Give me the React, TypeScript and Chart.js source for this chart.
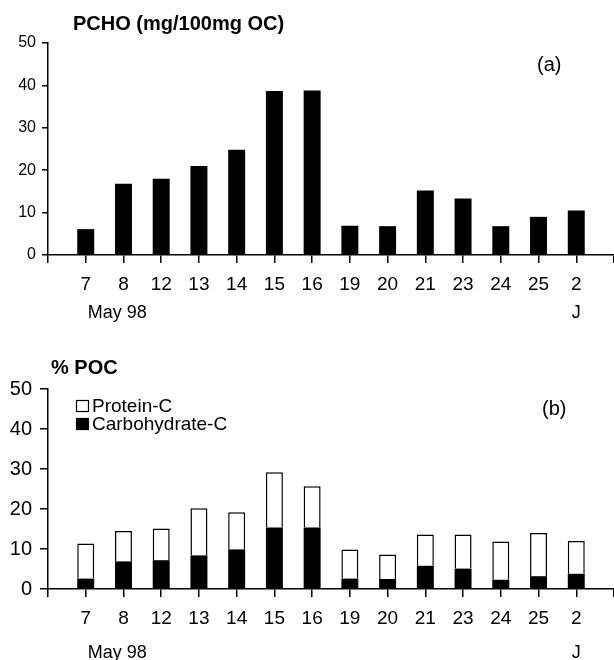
import { useEffect, useRef } from "react";
import { Chart, registerables } from "chart.js";

Chart.register(...registerables);

// ---- data ----
const days = ["7", "8", "12", "13", "14", "15", "16", "19", "20", "21", "23", "24", "25", "2"];
const pchoValues = [6.1, 16.8, 18.0, 21.0, 24.8, 38.7, 38.8, 6.9, 6.8, 15.2, 13.3, 6.8, 9.0, 10.5];
const carbohydrateC = [2.6, 6.9, 7.2, 8.4, 9.9, 15.4, 15.4, 2.6, 2.5, 5.8, 5.1, 2.3, 3.2, 3.8];
const proteinC = [8.8, 7.6, 7.9, 11.8, 9.3, 13.8, 10.3, 7.3, 6.1, 7.8, 8.5, 9.6, 10.8, 8.2];
const yMin = 0;
const yMax = 50;
const yStep = 10;
const monthLabel = "May 98";
const nextMonthLabel = "J";
const titleA = "PCHO (mg/100mg OC)";
const titleB = "% POC";
const tagA = "(a)";
const tagB = "(b)";

const FAMILY = "'Liberation Sans', Arial, Helvetica, sans-serif";

// blank slot at each end of the category axis
const paddedLabels = ["", ...days, ""];
const pad = (arr: number[]) => [null, ...arr, null];

const annotPlugin = {
  id: "annot",
  afterDraw(chart: any, _args: any, opts: any) {
    const ctx = chart.ctx;
    const xs = chart.scales.x;
    const area = chart.chartArea;
    ctx.save();
    ctx.fillStyle = "#000";
    ctx.textBaseline = "middle";
    ctx.textAlign = "left";
    ctx.font = `bold 20px ${FAMILY}`;
    ctx.fillText(opts.title, opts.titleX, opts.titleY);
    ctx.font = `20px ${FAMILY}`;
    ctx.fillText(opts.tag, opts.tagX, opts.tagY);
    ctx.font = `18px ${FAMILY}`;
    ctx.fillText(monthLabel, xs.getPixelForTick(1) + 2, area.bottom + opts.monthDy);
    ctx.textAlign = "center";
    ctx.fillText(nextMonthLabel, xs.getPixelForTick(days.length), area.bottom + opts.monthDy);
    if (opts.legend) {
      const ds = chart.data.datasets.slice().reverse();
      ctx.textAlign = "left";
      ctx.font = `19px ${FAMILY}`;
      ds.forEach((d: any, i: number) => {
        const cy = opts.legendY + i * opts.legendRow;
        const bx = opts.legendX;
        ctx.fillStyle = d.backgroundColor;
        ctx.fillRect(bx, cy - 6, 13, 12);
        ctx.strokeStyle = "#000";
        ctx.lineWidth = 1.2;
        ctx.strokeRect(bx + 0.5, cy - 5.5, 12, 11);
        ctx.fillStyle = "#000";
        ctx.fillText(d.label, bx + 16, cy + 1);
      });
    }
    ctx.restore();
  },
};

function makeScales(o: any) {
  return {
    x: {
      type: "category",
      offset: false,
      stacked: o.stacked,
      grid: {
        display: true,
        offset: false,
        drawOnChartArea: false,
        drawTicks: true,
        tickLength: 8,
        color: "#000",
        lineWidth: 1.5,
      },
      border: { display: true, color: "#000", width: 1.5 },
      ticks: {
        autoSkip: false,
        maxRotation: 0,
        minRotation: 0,
        padding: o.xPad,
        color: "#000",
        font: { family: FAMILY, size: 19 },
      },
      afterFit: (s: any) => {
        s.height = o.xHeight;
        s.paddingLeft = 0;
        s.paddingRight = 0;
      },
    },
    y: {
      min: yMin,
      max: yMax,
      stacked: o.stacked,
      ticks: {
        stepSize: yStep,
        padding: o.yPad,
        color: "#000",
        font: { family: FAMILY, size: o.yFont },
      },
      grid: {
        display: true,
        drawOnChartArea: false,
        drawTicks: true,
        tickLength: o.yTick,
        color: "#000",
        lineWidth: 1.5,
      },
      border: { display: true, color: "#000", width: 1.5 },
      afterFit: (s: any) => {
        s.width = 48;
      },
    },
  };
}

function configA(): any {
  return {
    type: "bar",
    data: {
      labels: paddedLabels,
      datasets: [
        {
          label: "PCHO",
          data: pad(pchoValues),
          backgroundColor: "#000",
          borderWidth: 0,
          barPercentage: 0.45,
          categoryPercentage: 1,
        },
      ],
    },
    options: {
      responsive: false,
      animation: false,
      devicePixelRatio: 1,
      layout: { padding: { top: 43, left: 0, right: 0, bottom: 0 } },
      plugins: {
        legend: { display: false },
        tooltip: { enabled: false },
        annot: {
          title: titleA,
          titleX: 73,
          titleY: 24,
          tag: tagA,
          tagX: 537,
          tagY: 65,
          monthDy: 58,
          legend: false,
        },
      },
      scales: makeScales({ stacked: false, xPad: 10, xHeight: 75, yPad: 6, yFont: 16, yTick: 6 }),
    },
    plugins: [annotPlugin],
  };
}

function configB(): any {
  return {
    type: "bar",
    data: {
      labels: paddedLabels,
      datasets: [
        {
          label: "Carbohydrate-C",
          data: pad(carbohydrateC),
          backgroundColor: "#000",
          borderColor: "#000",
          borderWidth: 0,
          barPercentage: 0.45,
          categoryPercentage: 1,
        },
        {
          label: "Protein-C",
          data: pad(proteinC),
          backgroundColor: "#fff",
          borderColor: "#000",
          borderWidth: 1.5,
          barPercentage: 0.45,
          categoryPercentage: 1,
        },
      ],
    },
    options: {
      responsive: false,
      animation: false,
      devicePixelRatio: 1,
      layout: { padding: { top: 59, left: 0, right: 0, bottom: 0 } },
      plugins: {
        legend: { display: false },
        tooltip: { enabled: false },
        annot: {
          title: titleB,
          titleX: 51,
          titleY: 38,
          tag: tagB,
          tagX: 542,
          tagY: 79,
          monthDy: 64,
          legend: true,
          legendX: 76,
          legendY: 76,
          legendRow: 18,
        },
      },
      scales: makeScales({ stacked: true, xPad: 10, xHeight: 71, yPad: 8, yFont: 20, yTick: 8 }),
    },
    plugins: [annotPlugin],
  };
}

export default function App() {
  const refA = useRef<HTMLCanvasElement | null>(null);
  const refB = useRef<HTMLCanvasElement | null>(null);
  useEffect(() => {
    const a = new Chart(refA.current as HTMLCanvasElement, configA());
    const b = new Chart(refB.current as HTMLCanvasElement, configB());
    return () => {
      a.destroy();
      b.destroy();
    };
  }, []);
  return (
    <div style={{ position: "absolute", left: 0, top: 0, width: 614, height: 660, background: "#fff" }}>
      <canvas ref={refA} width={614} height={330} style={{ display: "block" }} />
      <canvas ref={refB} width={614} height={330} style={{ display: "block" }} />
    </div>
  );
}
